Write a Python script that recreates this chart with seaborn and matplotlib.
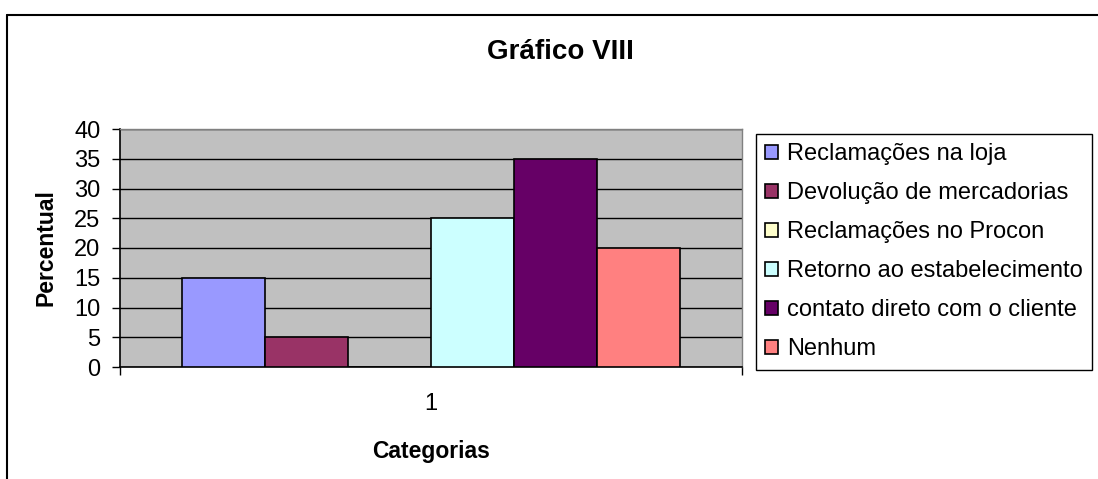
import matplotlib
matplotlib.use("Agg")
import matplotlib.pyplot as plt
from matplotlib.lines import Line2D
import pandas as pd
import seaborn as sns

# Data
categorias = ["1"]
series = [
    "Reclamações na loja",
    "Devolução de mercadorias",
    "Reclamações no Procon",
    "Retorno ao estabelecimento",
    "contato direto com o cliente",
    "Nenhum",
]
percentual = [15, 5, 0, 25, 35, 20]
cores = ["#9999FF", "#993366", "#FFFFCC", "#CCFFFF", "#660066", "#FF8080"]
y_ticks = [0, 5, 10, 15, 20, 25, 30, 35, 40]

df = pd.DataFrame({
    "Categorias": categorias * len(series),
    "Série": series,
    "Percentual": percentual,
})

sns.set_theme(style="white")
plt.rcParams["font.family"] = ["Liberation Sans", "DejaVu Sans"]
plt.rcParams["text.color"] = "black"
plt.rcParams["axes.labelcolor"] = "black"
plt.rcParams["xtick.color"] = "black"
plt.rcParams["ytick.color"] = "black"

fig = plt.figure(figsize=(10.98, 4.79), dpi=100)
ax = fig.add_axes([120 / 1098, 1 - 367 / 479, (742 - 120) / 1098, (367 - 129) / 479])
ax.set_facecolor("#C0C0C0")

sns.barplot(
    data=df, x="Categorias", y="Percentual", hue="Série",
    hue_order=series, palette=cores, width=0.8, saturation=1,
    edgecolor="black", linewidth=1.2, ax=ax, legend=False, zorder=3,
)

ax.set_xlim(-0.5, 0.5)
ax.set_ylim(0, 40)
ax.set_yticks(y_ticks)
ax.set_yticklabels([str(v) for v in y_ticks], fontsize=17)
ax.yaxis.grid(True, color="black", linewidth=1.0, zorder=1)
ax.set_axisbelow(True)
ax.tick_params(axis="y", direction="out", length=6, width=1, color="black", pad=8, left=True)

# Category label without a tick; boundary ticks at the category edges
ax.set_xticks([0])
ax.set_xticklabels(categorias, fontsize=17)
ax.tick_params(axis="x", which="major", length=0, pad=19)
ax.set_xticks([-0.5, 0.5], minor=True)
ax.tick_params(axis="x", which="minor", direction="out", length=6, width=1, color="black", bottom=True)

ax.set_xlabel("Categorias", fontsize=16.5, fontweight="bold", labelpad=18)
ax.set_ylabel("Percentual", fontsize=16.5, fontweight="bold", labelpad=12)

for side in ["left", "bottom"]:
    ax.spines[side].set_color("black")
    ax.spines[side].set_linewidth(1.2)
for side in ["top", "right"]:
    ax.spines[side].set_color("#808080")
    ax.spines[side].set_linewidth(1.0)
ax.spines["top"].set_zorder(4)

fig.text(560 / 1098, 1 - 52 / 479, "Gráfico VIII", fontsize=20, fontweight="bold",
         ha="center", va="center")

# Legend
handles = [plt.Rectangle((0, 0), 1, 1, facecolor=c, edgecolor="black", linewidth=1.2)
           for c in cores]
leg = fig.legend(
    handles, series, loc="upper left",
    bbox_to_anchor=(756 / 1098, 1 - 134 / 479),
    fontsize=17, frameon=True, fancybox=False, framealpha=1,
    handlelength=0.55, handleheight=0.55, handletextpad=0.35,
    labelspacing=0.72, borderpad=0.4, borderaxespad=0,
)
leg.get_frame().set_edgecolor("black")
leg.get_frame().set_linewidth(1.0)

# Chart-area border (top and left edges)
fig.add_artist(Line2D([7 / 1098, 1.0], [1 - 14.5 / 479, 1 - 14.5 / 479],
                      transform=fig.transFigure, color="black", linewidth=1.5))
fig.add_artist(Line2D([7 / 1098, 7 / 1098], [0.0, 1 - 14.5 / 479],
                      transform=fig.transFigure, color="black", linewidth=1.5))

fig.savefig("out.png", dpi=100, facecolor="white")
